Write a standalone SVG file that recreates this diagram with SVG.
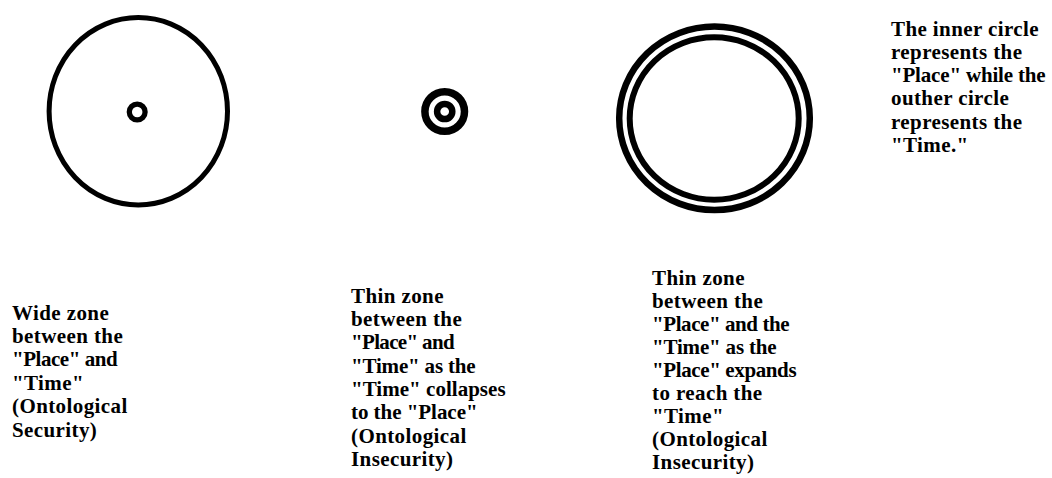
<svg xmlns="http://www.w3.org/2000/svg" width="1052" height="478" viewBox="0 0 1052 478">
<style>
.r{fill:none;stroke:#000}
text{font-family:"Liberation Serif","Times New Roman",serif;font-weight:bold;font-size:21px;letter-spacing:0.4px;fill:#000}
</style>
<rect width="1052" height="478" fill="#fff"/>
<g id="security">
<ellipse class="r" cx="138.3" cy="111.2" rx="89.2" ry="93.7" stroke-width="5"/>
<circle class="r" cx="137.2" cy="112" r="7.9" stroke-width="5.3"/>
</g>
<g id="collapse">
<circle class="r" cx="444.7" cy="111.5" r="19.8" stroke-width="7.5"/>
<circle class="r" cx="444.7" cy="111.5" r="7.6" stroke-width="6.5"/>
</g>
<g id="expand">
<ellipse class="r" cx="714.5" cy="118.3" rx="95.3" ry="91.8" stroke-width="6.5"/>
<ellipse class="r" cx="714.2" cy="118.5" rx="84.5" ry="81.2" stroke-width="6"/>
</g>
<g id="legend">
<text x="891" y="36">The inner circle</text>
<text x="891" y="59">represents the</text>
<text x="891" y="82" textLength="155" lengthAdjust="spacing">"Place" while the</text>
<text x="891" y="105">outher circle</text>
<text x="891" y="129">represents the</text>
<text x="891" y="152">"Time."</text>
</g>
<g id="label-security">
<text x="12" y="320">Wide zone</text>
<text x="12" y="343">between the</text>
<text x="12" y="366" textLength="106" lengthAdjust="spacing">"Place" and</text>
<text x="12" y="390">"Time"</text>
<text x="12" y="413">(Ontological</text>
<text x="12" y="437">Security)</text>
</g>
<g id="label-collapse">
<text x="351" y="303">Thin zone</text>
<text x="351" y="326">between the</text>
<text x="351" y="349" textLength="104" lengthAdjust="spacing">"Place" and</text>
<text x="351" y="373" textLength="125" lengthAdjust="spacing">"Time" as the</text>
<text x="351" y="396" textLength="155" lengthAdjust="spacing">"Time" collapses</text>
<text x="351" y="419" textLength="127" lengthAdjust="spacing">to the "Place"</text>
<text x="351" y="443">(Ontological</text>
<text x="351" y="466">Insecurity)</text>
</g>
<g id="label-expand">
<text x="652" y="285">Thin zone</text>
<text x="652" y="308">between the</text>
<text x="652" y="331" textLength="138" lengthAdjust="spacing">"Place" and the</text>
<text x="652" y="354" textLength="125" lengthAdjust="spacing">"Time" as the</text>
<text x="652" y="377" textLength="145" lengthAdjust="spacing">"Place" expands</text>
<text x="652" y="400">to reach the</text>
<text x="652" y="423">"Time"</text>
<text x="652" y="446">(Ontological</text>
<text x="652" y="469">Insecurity)</text>
</g>
</svg>
